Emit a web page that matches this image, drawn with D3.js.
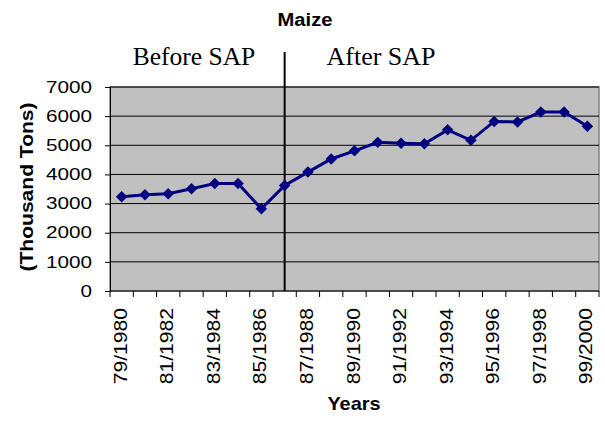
<!DOCTYPE html>
<html>
<head>
<meta charset="utf-8">
<script src="https://cdn.jsdelivr.net/npm/d3@7"></script>
<style>
  body { margin: 0; background: #fff; }
  svg { display: block; }
</style>
</head>
<body>
<svg width="605" height="421"></svg>
<script>
// maize production, thousand tons
var years = ["79/1980","80/1981","81/1982","82/1983","83/1984","84/1985","85/1986","86/1987",
             "87/1988","88/1989","89/1990","90/1991","91/1992","92/1993","93/1994","94/1995",
             "95/1996","96/1997","97/1998","98/1999","99/2000"];
var maize = [3230, 3300, 3340, 3510, 3690, 3690, 2820, 3620,
             4080, 4530, 4810, 5100, 5070, 5050, 5530, 5170,
             5820, 5800, 6140, 6140, 5650];
var yTicks = [0, 1000, 2000, 3000, 4000, 5000, 6000, 7000];
var sapYear = "86/1987";

var svg = d3.select("svg"),
    margin = {top: 87, right: 6, bottom: 130, left: 110},
    width = +svg.attr("width") - margin.left - margin.right,
    height = +svg.attr("height") - margin.top - margin.bottom,
    chart = svg.append("g").attr("transform", "translate(" + margin.left + "," + margin.top + ")");

var sans = "Liberation Sans, Arial, sans-serif";

var xScale = d3.scaleBand().domain(years).range([0, width]);
var yScale = d3.scaleLinear().domain([0, 7000]).range([height, 0]);

// grey plot area
chart.append("rect")
     .attr("width", width).attr("height", height)
     .attr("fill", "#c0c0c0")
     .attr("stroke", "#808080").attr("stroke-width", 1.5);

// gridlines
chart.selectAll(".grid")
     .data(yTicks.slice(1))
     .enter().append("line")
     .attr("x1", 0).attr("x2", width)
     .attr("y1", function(d) { return yScale(d); })
     .attr("y2", function(d) { return yScale(d); })
     .attr("stroke", "#000").attr("stroke-width", 1);

// y axis (labels drawn a bit wide, like the original)
var yAxis = chart.append("g")
     .call(d3.axisLeft(yScale).tickValues(yTicks).tickSize(5).tickPadding(0).tickFormat(d3.format("d")));
yAxis.select(".domain").attr("stroke", "#000");
yAxis.selectAll("text")
     .attr("x", -18 / 1.27)
     .attr("transform", "scale(1.27,1)")
     .attr("font-family", sans).attr("font-size", "16.3px").attr("fill", "#000");

// x axis: ticks at category boundaries, labels every other year
var xAxis = chart.append("g").attr("transform", "translate(0," + height + ")");
xAxis.append("line").attr("x1", 0).attr("x2", width).attr("stroke", "#000");
var bounds = years.map(function(d) { return xScale(d); }).concat([width]);
xAxis.selectAll(".tick")
     .data(bounds).enter().append("line")
     .attr("x1", function(d) { return d; }).attr("x2", function(d) { return d; })
     .attr("y1", 0).attr("y2", 6)
     .attr("stroke", "#000");
xAxis.selectAll(".xlab")
     .data(years.filter(function(d, i) { return i % 2 === 0; }))
     .enter().append("text")
     .attr("transform", function(d) {
       return "translate(" + (xScale(d) + xScale.bandwidth() / 2 + 5) + ",17) rotate(-90) scale(1.14,1)";
     })
     .attr("text-anchor", "end")
     .attr("font-family", sans).attr("font-size", "18.5px")
     .text(function(d) { return d; });

// SAP divider
var sapX = xScale(sapYear) + xScale.bandwidth() / 2;
chart.append("line")
     .attr("x1", sapX).attr("x2", sapX)
     .attr("y1", -35).attr("y2", height)
     .attr("stroke", "#000").attr("stroke-width", 2);

// series line + diamond markers
var line = d3.line()
     .x(function(d, i) { return xScale(years[i]) + xScale.bandwidth() / 2; })
     .y(function(d) { return yScale(d); });
chart.append("path")
     .datum(maize)
     .attr("d", line)
     .attr("fill", "none")
     .attr("stroke", "#000080").attr("stroke-width", 3);
chart.selectAll(".pt")
     .data(maize).enter().append("path")
     .attr("d", d3.symbol().type(d3.symbolSquare).size(66))
     .attr("transform", function(d, i) {
       return "translate(" + (xScale(years[i]) + xScale.bandwidth() / 2) + "," + yScale(d) + ") rotate(45)";
     })
     .attr("fill", "#000080");

// titles
svg.append("text").attr("transform", "translate(305,26) scale(1.06,1)").attr("text-anchor", "middle")
   .attr("font-family", sans).attr("font-weight", "bold").attr("font-size", "19px")
   .text("Maize");
svg.append("text").attr("x", 194).attr("y", 65).attr("text-anchor", "middle")
   .attr("font-family", "Liberation Serif").attr("font-size", "25.5px")
   .text("Before SAP");
svg.append("text").attr("x", 381).attr("y", 65).attr("text-anchor", "middle")
   .attr("font-family", "Liberation Serif").attr("font-size", "26px")
   .text("After SAP");
svg.append("text").attr("transform", "translate(354,410) scale(1.05,1)").attr("text-anchor", "middle")
   .attr("font-family", sans).attr("font-weight", "bold").attr("font-size", "19px")
   .text("Years");
svg.append("text")
   .attr("transform", "translate(33,187) rotate(-90) scale(1.17,1)")
   .attr("text-anchor", "middle")
   .attr("font-family", sans).attr("font-weight", "bold").attr("font-size", "18px")
   .text("(Thousand Tons)");
</script>
</body>
</html>
